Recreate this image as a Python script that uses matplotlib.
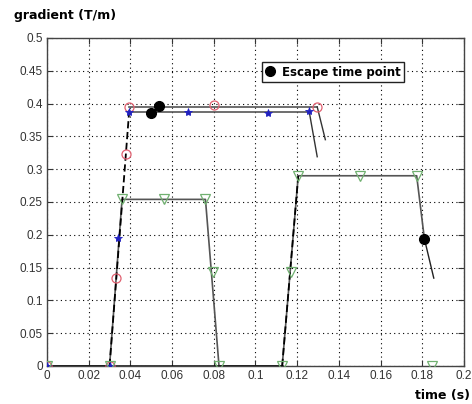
import matplotlib
matplotlib.use("Agg")
import matplotlib.pyplot as plt
import numpy as np

# ---- data ----
red_t = [0.0, 0.030, 0.0333, 0.038, 0.0395, 0.080, 0.1296]
red_g = [0.0, 0.0, 0.134, 0.323, 0.395, 0.398, 0.395]
red_line_t = [0.0395, 0.1296]
red_line_g = [0.395, 0.395]
red_tail_t = [0.1296, 0.1335]
red_tail_g = [0.395, 0.345]

blue_t = [0.0, 0.030, 0.0342, 0.0395, 0.0675, 0.106, 0.1258]
blue_g = [0.0, 0.0, 0.195, 0.387, 0.387, 0.386, 0.388]
blue_line_t = [0.0395, 0.1258]
blue_line_g = [0.387, 0.387]
blue_tail_t = [0.1258, 0.1296]
blue_tail_g = [0.387, 0.319]

green_t = [0.0, 0.030, 0.036, 0.056, 0.076, 0.0795, 0.0825, 0.1128, 0.1168, 0.1205, 0.150, 0.1773]
green_g = [0.0, 0.0, 0.254, 0.254, 0.254, 0.143, 0.0, 0.0, 0.143, 0.290, 0.290, 0.290]
green_line_t = [0.0, 0.030, 0.036, 0.076, 0.0825, 0.1128, 0.1205, 0.1773, 0.181]
green_line_g = [0.0, 0.0, 0.254, 0.254, 0.0, 0.0, 0.290, 0.290, 0.194]
green_tail_t = [0.181, 0.1855]
green_tail_g = [0.194, 0.134]
green_extra_t = [0.1846]
green_extra_g = [0.0]

rise_t = [[0.030, 0.0395], [0.1128, 0.1205]]
rise_g = [[0.0, 0.392], [0.0, 0.290]]

escape_t = [0.0500, 0.0535, 0.181]
escape_g = [0.386, 0.396, 0.194]

xticks = [0, 0.02, 0.04, 0.06, 0.08, 0.1, 0.12, 0.14, 0.16, 0.18, 0.2]
xlabels = ["0", "0.02", "0.04", "0.06", "0.08", "0.1", "0.12", "0.14", "0.16", "0.18", "0.2"]
yticks = [0, 0.05, 0.1, 0.15, 0.2, 0.25, 0.3, 0.35, 0.4, 0.45, 0.5]
ylabels = ["0", "0.05", "0.1", "0.15", "0.2", "0.25", "0.3", "0.35", "0.4", "0.45", "0.5"]

plt.rcParams['font.family'] = ['Liberation Sans', 'DejaVu Sans']

fig = plt.figure(figsize=(4.72, 4.04), dpi=100)
ax = fig.add_axes([47/472, 1-366/404, (464-47)/472, (366-38)/404])

gray = '#555555'
# lines
ax.plot(red_line_t, red_line_g, color=gray, lw=1.2, zorder=2)
ax.plot(blue_line_t, blue_line_g, color=gray, lw=1.2, zorder=2)
ax.plot(green_line_t, green_line_g, color=gray, lw=1.2, zorder=2)
ax.plot(red_tail_t, red_tail_g, color='#333333', lw=1.0, zorder=2)
ax.plot(blue_tail_t, blue_tail_g, color='#333333', lw=1.0, zorder=2)
ax.plot(green_tail_t, green_tail_g, color='#222222', lw=1.0, zorder=2)
ax.plot([0, 0.1128], [0, 0], color='black', lw=1.8, zorder=2)
for tt, gg in zip(rise_t, rise_g):
    ax.plot(tt, gg, color='black', lw=1.3, ls=(0, (4, 2)), zorder=3)

# markers
ax.plot(red_t, red_g, ls='none', marker='o', ms=6.5, mfc='none', mec='#e06070', mew=0.9, zorder=4)
ax.plot(blue_t, blue_g, ls='none', marker='*', ms=6, color='#2020c0', mew=0.6, zorder=4)
ax.plot(green_t, green_g, ls='none', marker='v', ms=7.5, mfc='none', mec='#70b070', mew=0.9, zorder=4)
ax.plot(green_extra_t, green_extra_g, ls='none', marker='v', ms=7.5, mfc='none', mec='#70b070', mew=0.9, zorder=4)
ax.plot(escape_t, escape_g, ls='none', marker='o', ms=7, color='black', zorder=5,
        label='Escape time point')

ax.set_xlim(0, 0.2)
ax.set_ylim(0, 0.5)
ax.set_xticks(xticks)
ax.set_xticklabels(xlabels)
ax.set_yticks(yticks)
ax.set_yticklabels(ylabels)
ax.tick_params(direction='in', top=True, right=True, labelsize=8.5, colors='#333333',
               length=4, width=0.8, pad=3)
ax.grid(True, ls=(0, (1, 3)), color='black', lw=0.8)
for s in ax.spines.values():
    s.set_color('#444444')
    s.set_linewidth(1.0)

leg = ax.legend(loc='upper left', bbox_to_anchor=((262-47)/417, (366-62)/328),
                frameon=True, fancybox=False, edgecolor='#222222', framealpha=1,
                handlelength=0.8, handletextpad=0.6, borderpad=0.3, borderaxespad=0,
                prop={'family': 'DejaVu Sans', 'weight': 'bold', 'size': 8.5})
leg.get_frame().set_linewidth(1.0)

fig.text(14/472, 1-16/404, 'gradient (T/m)', fontsize=9, fontweight='bold',
         family='DejaVu Sans', va='center', ha='left')
fig.text(470/472, 1-396/404, 'time (s)', fontsize=9, fontweight='bold',
         family='DejaVu Sans', va='center', ha='right')

fig.savefig('out.png', dpi=100)
